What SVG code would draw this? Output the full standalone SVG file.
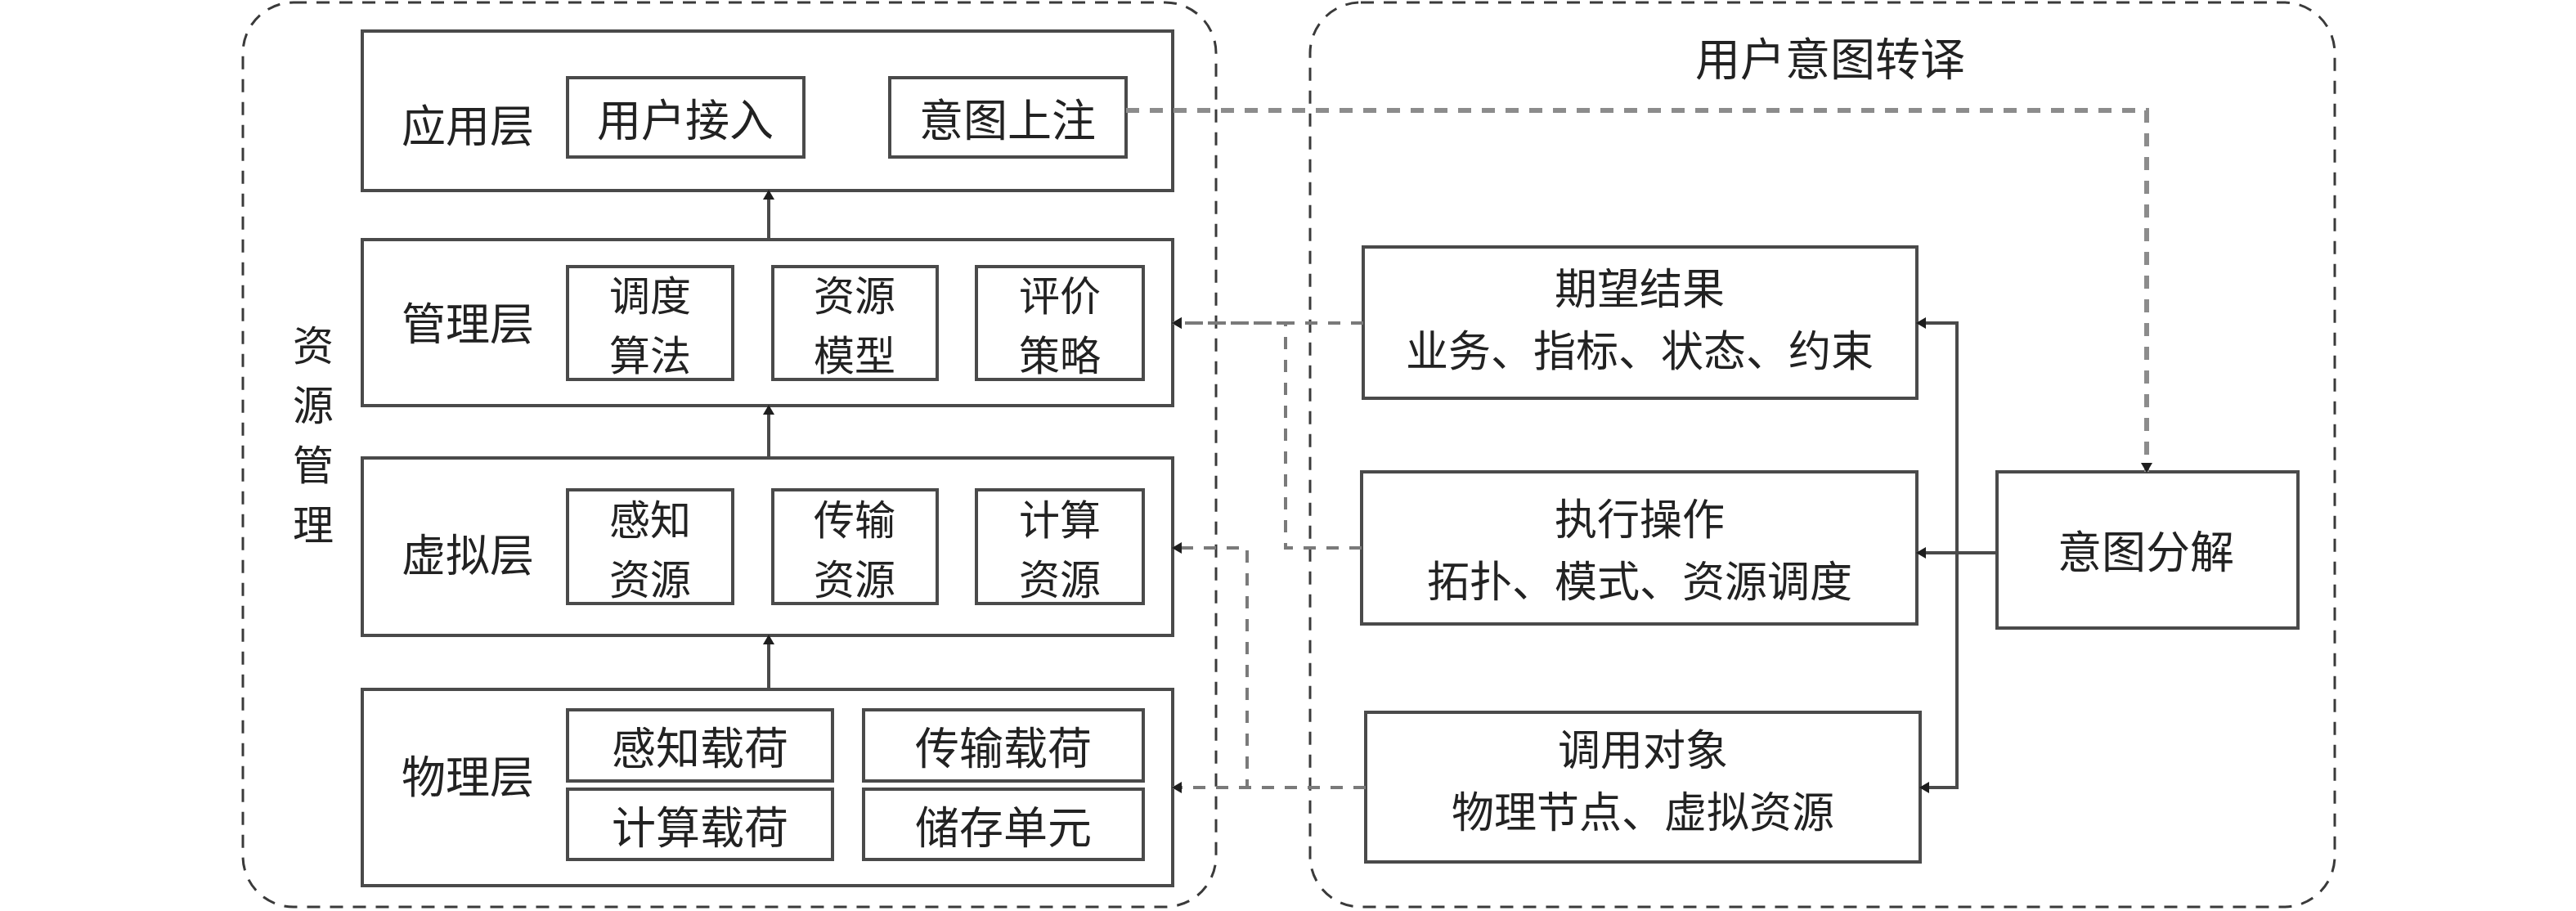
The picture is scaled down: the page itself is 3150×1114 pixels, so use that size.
<svg xmlns="http://www.w3.org/2000/svg" width="3150" height="1114" viewBox="0 0 3150 1114">
<style>
text{font-family:"Noto Sans CJK SC","Noto Sans CJK JP",sans-serif;font-size:54px;fill:#222;text-anchor:middle;dominant-baseline:central}
.cont{fill:none;stroke:#3a3a3a;stroke-width:3;stroke-dasharray:16 12}
.box{fill:#fff;stroke:#4a4a4a;stroke-width:4}
.sub{fill:#fff;stroke:#4a4a4a;stroke-width:4}
.solid{fill:none;stroke:#4a4a4a;stroke-width:4}
.dash{fill:none;stroke:#7a7a7a;stroke-width:4;stroke-dasharray:15 13}
.dashg{fill:none;stroke:#8c8c8c;stroke-width:6;stroke-dasharray:16 13}
.big{font-size:55px}
.two{font-size:50px}
.two2{font-size:52px}
</style>
<defs>
<marker id="ah" markerUnits="userSpaceOnUse" viewBox="0 0 12 14" refX="11" refY="7" markerWidth="12" markerHeight="14" orient="auto">
<path d="M0,0 L12,7 L0,14 z" fill="#1e1e1e"/>
</marker>
</defs>
<rect width="3150" height="1114" fill="#fff"/>

<g id="container-resource">
<rect class="cont" x="297" y="3" width="1190" height="1106" rx="62"/>
<text class="two" x="383" y="419">资</text>
<text class="two" x="383" y="492">源</text>
<text class="two" x="383" y="565">管</text>
<text class="two" x="383" y="638">理</text>
</g>
<g id="container-intent">
<rect class="cont" x="1602" y="3" width="1253" height="1106" rx="62"/>
<text class="big" x="2238" y="68">用户意图转译</text>
</g>

<g id="layer-app">
<rect class="box" x="443" y="38" width="991" height="195"/>
<text x="572" y="150">应用层</text>
<rect class="sub" x="694" y="95" width="289" height="97"/>
<text x="838" y="143">用户接入</text>
<rect class="sub" x="1088" y="95" width="289" height="97"/>
<text x="1232" y="143">意图上注</text>
</g>
<g id="layer-mgmt">
<rect class="box" x="443" y="293" width="991" height="203"/>
<text x="572" y="392">管理层</text>
<rect class="sub" x="694" y="326" width="202" height="138"/>
<text class="two" x="795" y="358">调度</text><text class="two" x="795" y="431">算法</text>
<rect class="sub" x="945" y="326" width="201" height="138"/>
<text class="two" x="1045" y="358">资源</text><text class="two" x="1045" y="431">模型</text>
<rect class="sub" x="1194" y="326" width="204" height="138"/>
<text class="two" x="1296" y="358">评价</text><text class="two" x="1296" y="431">策略</text>
</g>
<g id="layer-virtual">
<rect class="box" x="443" y="560" width="991" height="217"/>
<text x="572" y="675">虚拟层</text>
<rect class="sub" x="694" y="599" width="202" height="139"/>
<text class="two" x="795" y="632">感知</text><text class="two" x="795" y="705">资源</text>
<rect class="sub" x="945" y="599" width="201" height="139"/>
<text class="two" x="1045" y="632">传输</text><text class="two" x="1045" y="705">资源</text>
<rect class="sub" x="1194" y="599" width="204" height="139"/>
<text class="two" x="1296" y="632">计算</text><text class="two" x="1296" y="705">资源</text>
</g>
<g id="layer-physical">
<rect class="box" x="443" y="843" width="991" height="240"/>
<text x="572" y="946">物理层</text>
<rect class="sub" x="694" y="868" width="324" height="87"/>
<text x="856" y="911">感知载荷</text>
<rect class="sub" x="1056" y="868" width="342" height="87"/>
<text x="1227" y="911">传输载荷</text>
<rect class="sub" x="694" y="965" width="324" height="86"/>
<text x="856" y="1008">计算载荷</text>
<rect class="sub" x="1056" y="965" width="342" height="86"/>
<text x="1227" y="1008">储存单元</text>
</g>

<g id="node-expected">
<rect class="box" x="1667" y="302" width="677" height="185"/>
<text class="two2" x="2005" y="349">期望结果</text>
<text class="two2" x="2005" y="425">业务、指标、状态、约束</text>
</g>
<g id="node-execute">
<rect class="box" x="1665" y="577" width="679" height="186"/>
<text class="two2" x="2005" y="631">执行操作</text>
<text class="two2" x="2005" y="707">拓扑、模式、资源调度</text>
</g>
<g id="node-invoke">
<rect class="box" x="1670" y="871" width="678" height="183"/>
<text class="two2" x="2009" y="913">调用对象</text>
<text class="two2" x="2009" y="989">物理节点、虚拟资源</text>
</g>
<g id="node-decompose">
<rect class="box" x="2442" y="577" width="368" height="191"/>
<text x="2624" y="671">意图分解</text>
</g>

<g id="connectors">
<path class="solid" d="M940,293 V233" marker-end="url(#ah)"/>
<path class="solid" d="M940,560 V496" marker-end="url(#ah)"/>
<path class="solid" d="M940,843 V777" marker-end="url(#ah)"/>
<path class="dashg" d="M1377,135 H2625 V577" marker-end="url(#ah)"/>
<path class="dash" d="M1667,395 H1434" marker-end="url(#ah)"/>
<path class="dash" d="M1665,670 H1572 V395 H1434" marker-end="url(#ah)"/>
<path class="dash" d="M1670,963 H1434" marker-end="url(#ah)"/>
<path class="dash" d="M1670,963 H1525 V670 H1434" marker-end="url(#ah)"/>
<path class="solid" d="M2442,676 H2344" marker-end="url(#ah)"/>
<path class="solid" d="M2393,676 V395 H2344" marker-end="url(#ah)"/>
<path class="solid" d="M2393,676 V963 H2348" marker-end="url(#ah)"/>
</g>
</svg>
